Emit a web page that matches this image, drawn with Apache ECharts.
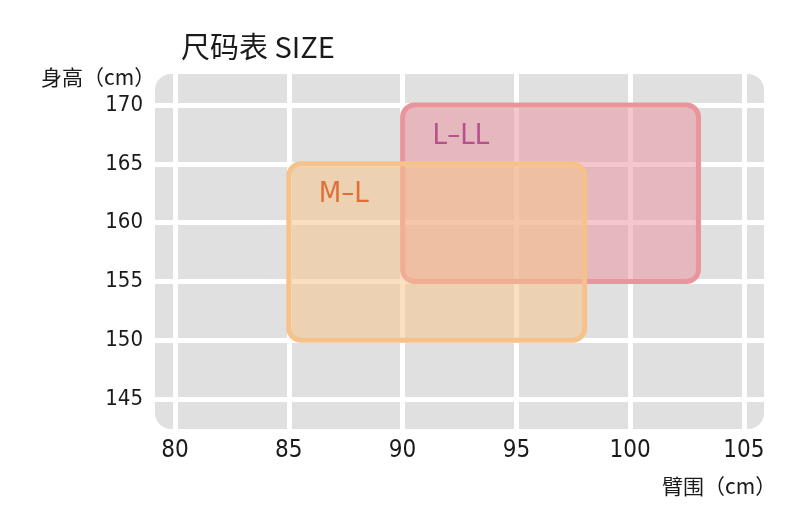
<!DOCTYPE html>
<html><head><meta charset="utf-8">
<script src="https://cdn.jsdelivr.net/npm/echarts@6/dist/echarts.min.js"></script>
<style>html,body{margin:0;padding:0;background:#fff}#c{width:800px;height:520px}</style>
</head><body><div id="c"></div>
<script>
// Size ranges: [armMin, armMax, heightMin, heightMax]
const sizeNames = ['L–LL', 'M–L'];
const armMin = [90, 85];
const armMax = [103, 98];
const heightMin = [155, 150];
const heightMax = [170, 165];
const xTicks = [80, 85, 90, 95, 100, 105];
const yTicks = [145, 150, 155, 160, 165, 170];
// panel extent (background)
const panelX = [79.12, 105.88];
const panelY = [142.45, 172.64];

const fills = ['rgba(232,148,158,0.52)', 'rgba(246,196,142,0.55)'];
const strokes = ['#e9959b', '#f5c28c'];
const textColors = ['#b6508e', '#e07038'];

const chart = echarts.init(document.getElementById('c'));
const font = '"Liberation Sans Narrow", "DejaVu Sans Condensed", Lato, "Noto Sans", sans-serif';
const cjk = '"Noto Sans CJK SC", sans-serif';
chart.setOption({
  backgroundColor: '#ffffff',
  animation: false,
  title: [
    {text: '尺码表 SIZE', left: 176, top: 27, textStyle: {fontFamily: cjk, fontSize: 29, fontWeight: 'normal', color: '#1a1a1a'}},
    {text: '身高（cm）', left: 36, top: 62, textStyle: {fontFamily: cjk, fontSize: 21, fontWeight: 'normal', color: '#1a1a1a'}},
    {text: '臂围（cm）', left: 657, top: 471, textStyle: {fontFamily: cjk, fontSize: 21, fontWeight: 'normal', color: '#1a1a1a'}}
  ],
  grid: {left: 155, right: 36, top: 74, bottom: 91},
  xAxis: {
    type: 'value', min: panelX[0], max: panelX[1], z: 3,
    axisLine: {show: false}, axisTick: {show: false},
    splitLine: {show: true, showMinLine: false, showMaxLine: false, lineStyle: {color: '#ffffff', width: 5}},
    axisLabel: {margin: 10, fontSize: 24, color: '#1a1a1a', fontFamily: font, showMinLabel: false, showMaxLabel: false,
      formatter: v => xTicks.includes(Math.round(v*100)/100) ? String(v) : ''}
  },
  yAxis: {
    type: 'value', min: panelY[0], max: panelY[1], z: 3,
    axisLine: {show: false}, axisTick: {show: false},
    splitLine: {show: true, showMinLine: false, showMaxLine: false, lineStyle: {color: '#ffffff', width: 5}},
    axisLabel: {margin: 12, fontSize: 22, color: '#1a1a1a', fontFamily: font, showMinLabel: false, showMaxLabel: false,
      formatter: v => yTicks.includes(Math.round(v*100)/100) ? String(v) : ''}
  },
  series: [
    {
      type: 'custom', z: 1, silent: true, clip: false,
      data: [[panelX[0], panelX[1], panelY[0], panelY[1]]],
      renderItem: (params, api) => {
        const p1 = api.coord([api.value(0), api.value(3)]);
        const p2 = api.coord([api.value(1), api.value(2)]);
        return {type: 'rect', shape: {x: p1[0], y: p1[1], width: p2[0]-p1[0], height: p2[1]-p1[1], r: 16},
          style: {fill: '#e0e0e0'}};
      }
    },
    {
      type: 'custom', z: 5, clip: false,
      data: sizeNames.map((n, i) => [armMin[i], armMax[i], heightMin[i], heightMax[i], i]),
      renderItem: (params, api) => {
        const i = api.value(4);
        const p1 = api.coord([api.value(0), api.value(3)]);
        const p2 = api.coord([api.value(1), api.value(2)]);
        return {type: 'group', children: [
          {type: 'rect', shape: {x: p1[0], y: p1[1], width: p2[0]-p1[0], height: p2[1]-p1[1], r: 12},
            style: {fill: fills[i], stroke: strokes[i], lineWidth: 5}},
          {type: 'text', x: p1[0] + 30, y: p1[1] + 31,
            style: {text: sizeNames[i], fill: textColors[i], font: '29px ' + font, textAlign: 'left', textVerticalAlign: 'middle'}}
        ]};
      }
    }
  ]
});
</script></body></html>
